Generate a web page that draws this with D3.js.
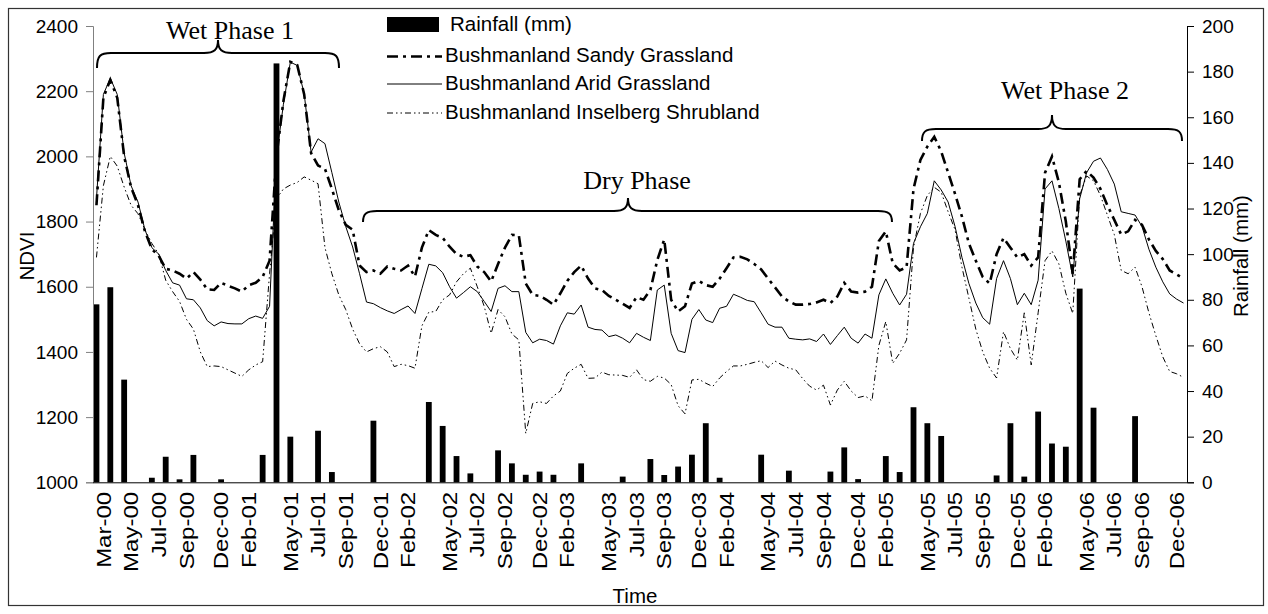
<!DOCTYPE html>
<html><head><meta charset="utf-8">
<script src="https://cdn.jsdelivr.net/npm/d3@7"></script>
<style>html,body{margin:0;padding:0;background:#fff;}svg{display:block;}</style>
</head><body>
<svg id="c" width="1268" height="614"></svg>
<script>
// 16-day composites, index 0 = 18 Feb 2000 ... index 157 = 19 Dec 2006
const tickIdx = [1,5,9,13,18, 22,28,32,36,41, 45,51,55,59,64, 68,74,78,82,87, 91,97,101,105,110, 114,120,124,128,133, 137,143,147,151,156];
const tickLabels = ["Mar-00","May-00","Jul-00","Sep-00","Dec-00","Feb-01","May-01","Jul-01","Sep-01","Dec-01","Feb-02","May-02","Jul-02","Sep-02","Dec-02","Feb-03","May-03","Jul-03","Sep-03","Dec-03","Feb-04","May-04","Jul-04","Sep-04","Dec-04","Feb-05","May-05","Jul-05","Sep-05","Dec-05","Feb-06","May-06","Jul-06","Sep-06","Dec-06"];

const sandy = [1850,2180,2235,2180,2000,1905,1850,1770,1715,1695,
1655,1650,1640,1625,1645,1622,1592,1590,1612,1603,
1595,1585,1605,1612,1630,1680,2000,2170,2290,2280,
2190,2010,1972,1962,1900,1835,1790,1775,1665,1645,
1650,1640,1662,1655,1650,1665,1631,1720,1774,1759,
1750,1723,1700,1692,1697,1662,1645,1616,1670,1720,
1759,1758,1610,1575,1572,1560,1545,1580,1618,1645,
1665,1625,1595,1590,1572,1560,1548,1535,1568,1560,
1590,1682,1745,1560,1524,1540,1610,1618,1605,1600,
1625,1657,1690,1692,1684,1670,1653,1625,1598,1570,
1555,1545,1545,1547,1552,1560,1550,1570,1612,1585,
1582,1585,1600,1740,1770,1672,1650,1660,1900,1989,
2030,2060,2015,1950,1885,1815,1733,1680,1630,1610,
1700,1750,1720,1690,1700,1665,1690,1950,2000,1920,
1800,1640,1930,1955,1935,1900,1850,1805,1760,1770,
1805,1790,1745,1710,1685,1650,1638,1625];

const arid = [1870,2190,2240,2190,2010,1910,1860,1775,1720,1700,
1650,1612,1605,1563,1560,1535,1496,1480,1492,1487,
1486,1486,1502,1510,1503,1540,2000,2160,2289,2279,
2192,2013,2054,2039,1950,1860,1785,1722,1640,1553,
1548,1536,1526,1518,1530,1541,1518,1594,1669,1664,
1643,1600,1565,1582,1600,1585,1555,1524,1595,1603,
1585,1585,1460,1428,1439,1435,1424,1480,1520,1516,
1544,1476,1469,1467,1447,1452,1442,1428,1457,1445,
1435,1590,1605,1457,1404,1398,1500,1530,1498,1490,
1534,1540,1577,1568,1558,1554,1520,1485,1476,1476,
1442,1439,1437,1440,1432,1455,1423,1450,1476,1442,
1427,1455,1442,1575,1624,1580,1544,1577,1733,1784,
1825,1925,1897,1860,1785,1690,1610,1550,1505,1485,
1625,1680,1625,1545,1580,1545,1620,1900,1925,1840,
1740,1630,1870,1950,1985,1995,1960,1915,1830,1825,
1820,1785,1715,1660,1615,1578,1562,1550];

const inselberg = [1690,1910,2000,1970,1906,1850,1824,1775,1733,1700,
1620,1585,1555,1500,1470,1400,1355,1357,1355,1345,
1335,1325,1345,1360,1370,1640,1870,1900,1912,1920,
1937,1927,1916,1720,1640,1575,1530,1470,1425,1400,
1410,1416,1400,1355,1362,1358,1350,1480,1522,1524,
1560,1575,1615,1640,1657,1600,1540,1457,1530,1508,
1455,1437,1150,1242,1247,1242,1265,1280,1334,1350,
1362,1319,1320,1338,1330,1329,1328,1322,1345,1315,
1310,1325,1320,1300,1235,1210,1314,1316,1304,1294,
1320,1340,1357,1357,1362,1368,1373,1352,1372,1360,
1350,1345,1318,1295,1283,1298,1237,1283,1310,1280,
1260,1265,1250,1420,1493,1365,1396,1437,1720,1825,
1880,1905,1890,1830,1775,1660,1565,1470,1400,1350,
1320,1462,1410,1375,1520,1360,1520,1680,1710,1670,
1580,1518,1880,1940,1925,1880,1820,1760,1650,1640,
1660,1600,1520,1450,1385,1340,1333,1322];

const rainfall = [78,0,85.5,0,45,0,0,0,2,0,
11.2,0,1.3,0,12,0,0,0,1.3,0,
0,0,0,0,12,0,183.6,0,20,0,
0,0,22.6,0,4.5,0,0,0,0,0,
27,0,0,0,0,0,0,0,35.2,0,
24.7,0,11.5,0,3.9,0,0,0,14,0,
8.3,0,3.3,0,4.7,0,3.3,0,0,0,
8.3,0,0,0,0,0,2.5,0,0,0,
10.2,0,3.2,0,6.9,0,12.1,0,25.9,0,
2,0,0,0,0,0,12.1,0,0,0,
5.1,0,0,0,0,0,4.7,0,15.3,0,
1.4,0,0,0,11.5,0,4.5,0,32.9,0,
25.9,0,20.3,0,0,0,0,0,0,0,
3,0,25.9,0,2.5,0,31,0,17,0,
15.6,0,84.9,0,32.7,0,0,0,0,0,
29,0,0,0,0,0,0,0];

const ndviTicks = [1000,1200,1400,1600,1800,2000,2200,2400];
const rainTicks = [0,20,40,60,80,100,120,140,160,180,200];

const legendItems = ["Rainfall (mm)","Bushmanland Sandy Grassland","Bushmanland Arid Grassland","Bushmanland Inselberg Shrubland"];
const phaseLabels = ["Wet Phase 1","Dry Phase","Wet Phase 2"];

const svg = d3.select("#c");
const FONT = "'Liberation Sans', Arial, Helvetica, sans-serif";
const SERIF = "'Liberation Serif', 'Times New Roman', serif";
const L = 93, R = 1187, T = 26, B = 482.3;
const N = sandy.length;

svg.append("rect").attr("x",8.5).attr("y",8.5).attr("width",1255).attr("height",597)
  .attr("fill","#fff").attr("stroke","#333").attr("stroke-width",1.2);

const x = d3.scaleBand().domain(d3.range(N)).range([L,R]).paddingInner(0.16).paddingOuter(0.08);
const cx = i => x(i) + x.bandwidth()/2;
const yL = d3.scaleLinear().domain([1000,2400]).range([B,T]);
const yR = d3.scaleLinear().domain([0,200]).range([B,T]);

// bars
svg.append("g").selectAll("rect").data(rainfall.map((v,i)=>({i,v})).filter(d=>d.v>0)).join("rect")
  .attr("x",d=>x(d.i)).attr("width",x.bandwidth())
  .attr("y",d=>yR(d.v)).attr("height",d=>B-yR(d.v)).attr("fill","#000");

// lines
const line = arr => d3.line().x((d,i)=>cx(i)).y(d=>yL(d))(arr);
svg.append("path").attr("d",line(inselberg)).attr("fill","none").attr("stroke","#000")
  .attr("stroke-width",1).attr("stroke-dasharray","6,3,1.5,3,1.5,3");
svg.append("path").attr("d",line(arid)).attr("fill","none").attr("stroke","#000").attr("stroke-width",1);
svg.append("path").attr("d",line(sandy)).attr("fill","none").attr("stroke","#000")
  .attr("stroke-width",2.6).attr("stroke-dasharray","11,5,3,5");

// left axis
const gL = svg.append("g").attr("transform",`translate(${L},0)`)
  .call(d3.axisLeft(yL).tickValues(ndviTicks).tickSize(7).tickPadding(8).tickFormat(d3.format("d")));
gL.select(".domain").attr("stroke","#808080");
gL.selectAll(".tick line").attr("stroke","#808080");
gL.selectAll("text").attr("font-family",FONT).attr("font-size",19).attr("fill","#000");

// right axis
const gR = svg.append("g").attr("transform",`translate(${R},0)`)
  .call(d3.axisRight(yR).tickValues(rainTicks).tickSize(7).tickPadding(8));
gR.selectAll("text").attr("font-family",FONT).attr("font-size",19).attr("fill","#000");

// bottom axis
const gB = svg.append("g").attr("transform",`translate(0,${B})`)
  .call(d3.axisBottom(x).tickValues(tickIdx).tickSize(0).tickPadding(0)
    .tickFormat(i => tickLabels[tickIdx.indexOf(i)]));
gB.select(".domain").attr("d",`M${L},0.5H${R}`).attr("stroke","#000");
gB.selectAll("text").attr("font-family",FONT).attr("font-size",20).attr("fill","#000")
  .attr("text-anchor","end").attr("transform","rotate(-90) scale(1.2,1)")
  .attr("x",-8).attr("y",0).attr("dy","0.36em");

// axis titles
svg.append("text").attr("transform","translate(34,256) rotate(-90)").attr("text-anchor","middle")
  .attr("font-family",FONT).attr("font-size",20.5).text("NDVI");
svg.append("text").attr("transform","translate(1248,256) rotate(-90)").attr("text-anchor","middle")
  .attr("font-family",FONT).attr("font-size",20.5).text("Rainfall (mm)");
svg.append("text").attr("x",635).attr("y",603).attr("text-anchor","middle")
  .attr("font-family",FONT).attr("font-size",20.5).text("Time");

// legend
const lg = svg.append("g");
lg.append("rect").attr("x",387).attr("y",17).attr("width",52).attr("height",15).attr("fill","#000");
const lgY = [31, 62, 90, 119];
const lineY = [0, 56.5, 84, 113];
lg.selectAll("text").data(legendItems).join("text")
  .attr("x",(d,i)=> i===0 ? 450 : 445).attr("y",(d,i)=>lgY[i])
  .attr("font-family",FONT).attr("font-size",20.5).text(d=>d);
lg.append("line").attr("x1",387).attr("x2",442).attr("y1",lineY[1]).attr("y2",lineY[1])
  .attr("stroke","#000").attr("stroke-width",2.6).attr("stroke-dasharray","11,5,3,5");
lg.append("line").attr("x1",387).attr("x2",442).attr("y1",lineY[2]).attr("y2",lineY[2])
  .attr("stroke","#000").attr("stroke-width",1);
lg.append("line").attr("x1",387).attr("x2",442).attr("y1",lineY[3]).attr("y2",lineY[3])
  .attr("stroke","#000").attr("stroke-width",1).attr("stroke-dasharray","6,3,1.5,3,1.5,3");

// braces
const braceGeom = [
  {x0:97, x1:339, xm:218, yE:68, yH:53, yT:40, tx:230, ty:39},
  {x0:363, x1:892, xm:628, yE:222, yH:211, yT:198, tx:637, ty:189},
  {x0:922, x1:1182, xm:1052, yE:141, yH:129, yT:115, tx:1065, ty:99}
];
function brace(g){
  const r = 14, r2 = 14;
  return `M${g.x0},${g.yE} C${g.x0},${g.yH+3} ${g.x0+3},${g.yH} ${g.x0+r},${g.yH}`+
    ` L${g.xm-r2},${g.yH} C${g.xm-4},${g.yH} ${g.xm},${g.yH-3} ${g.xm},${g.yT}`+
    ` C${g.xm},${g.yH-3} ${g.xm+4},${g.yH} ${g.xm+r2},${g.yH}`+
    ` L${g.x1-r},${g.yH} C${g.x1-3},${g.yH} ${g.x1},${g.yH+3} ${g.x1},${g.yE}`;
}
phaseLabels.forEach((lab,k)=>{
  const g = braceGeom[k];
  svg.append("path").attr("d",brace(g)).attr("fill","none").attr("stroke","#000").attr("stroke-width",2);
  svg.append("text").attr("x",g.tx).attr("y",g.ty).attr("text-anchor","middle")
    .attr("font-family",SERIF).attr("font-size",26).text(lab);
});
</script>
</body></html>
